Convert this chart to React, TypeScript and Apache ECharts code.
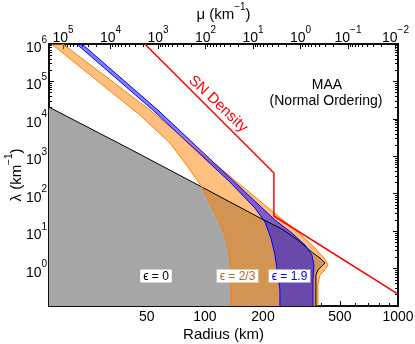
import React, { useEffect, useRef } from 'react';
import * as echarts from 'echarts';

// axis ranges
const radiusRange: [number, number] = [15.6, 1000];
const lambdaRange: [number, number] = [0.1, 1e6];
const muExpRange: [number, number] = [-2.053, 5.295]; // log10(mu), right end .. left end

// tick labels
const radiusMajorTicks = [50, 100, 200, 500, 1000];
const radiusMinorTicks = [20, 30, 40, 60, 70, 80, 90, 300, 400, 600, 700, 800, 900];
const lambdaExponents = [0, 1, 2, 3, 4, 5, 6];
const muExponents = [-2, -1, 0, 1, 2, 3, 4, 5];

// boundaries: [radius (km), lambda (km^-1)]
const eps0Edge: [number, number][] = [
  [15.6, 20600], [40.9, 1566], [96.5, 151], [192.8, 22.5], [250.6, 11.4], [303, 5.8],
  [362.7, 2.61], [394.5, 1.92], [418.7, 1.41], [404, 1.17], [385, 0.917], [376, 0.674], [376, 0.1],
];
const eps23Inner: [number, number][] = [
  [16.1, 1e6], [46.1, 12700], [65.9, 2270], [79.7, 620], [96.5, 151], [108.7, 44.2],
  [119.6, 16.5], [128.5, 6.56], [133.2, 2.77], [136.4, 0.92], [136.4, 0.1],
];
const eps23Outer: [number, number][] = [
  [18.4, 1e6], [51.9, 17200], [253.6, 19.9], [310.6, 8.39], [371.5, 3.55], [413.7, 1.92],
  [433.9, 1.25], [413.7, 0.862], [394.5, 0.674], [385.1, 0.387], [385.1, 0.1],
];
const eps19Inner: [number, number][] = [
  [21.7, 1e6], [53.8, 17200], [134.8, 205.6], [181.6, 41.5], [204.6, 17.6], [219.8, 6.56],
  [230.6, 2.31], [238.9, 0.674], [244.7, 0.268], [244.7, 0.1],
];
const eps19Outer: [number, number][] = [
  [23.1, 1e6], [57.1, 17200], [230.6, 19.9], [282.3, 8.92], [329.7, 4.27], [358.4, 2.31],
  [367.1, 1.25], [362.7, 0.495], [362.7, 0.1],
];
const snDensity: [number, number][] = [
  [48.9, 1e6], [227.8, 358], [227.8, 25.4], [1000, 0.209],
];

const FONT = '"Liberation Sans", Arial, Helvetica, sans-serif';
const lg = Math.log10;

function expText(v: number) {
  const n = Math.round(v);
  return `{b|10}{s|${n < 0 ? '\u2212' + -n : n}}`;
}
const richExp = {
  b: { fontSize: 14, fontFamily: FONT, color: '#000', lineHeight: 20, verticalAlign: 'bottom' },
  s: { fontSize: 10, fontFamily: FONT, color: '#000', lineHeight: 12, verticalAlign: 'top' },
};
const richName = {
  n: { fontSize: 15, fontFamily: FONT, color: '#000', lineHeight: 20, verticalAlign: 'bottom' },
  s: { fontSize: 10, fontFamily: FONT, color: '#000', lineHeight: 12, verticalAlign: 'top' },
};

function minorLogs(lo: number, hi: number) {
  const out: number[] = [];
  for (let n = Math.floor(lo) - 1; n <= Math.ceil(hi); n++) {
    for (let k = 2; k <= 9; k++) {
      const v = n + lg(k);
      if (v > lo && v < hi) out.push(v);
    }
  }
  return out;
}

const lineStyleAxis = { color: '#000', width: 1.5 };

function baseAxis(extra: any) {
  return {
    type: 'value',
    gridIndex: 0,
    splitLine: { show: false },
    nameMoveOverlap: false,
    axisLine: { show: true, onZero: false, lineStyle: lineStyleAxis },
    ...extra,
  };
}

function tickOnly(position: string, min: number, max: number, values: number[], length: number, inverse = false) {
  return baseAxis({
    position, min, max, inverse,
    axisTick: { show: true, inside: true, length, customValues: values, lineStyle: { color: '#000', width: 1 } },
    axisLabel: { show: false },
  });
}

const toXY = (pts: [number, number][]) => pts.map(([r, l]) => [lg(r), lg(l)]);

function fillSeries(pts: [number, number][], color: string) {
  const xy = toXY(pts);
  return {
    type: 'custom',
    xAxisIndex: 0,
    yAxisIndex: 0,
    silent: true,
    clip: true,
    data: [xy[0]],
    renderItem: (_p: any, api: any) => ({
      type: 'polygon',
      shape: { points: xy.map((p) => api.coord(p)) },
      style: { fill: color, stroke: 'none' },
    }),
  };
}

function lineSeries(pts: [number, number][], color: string, width: number) {
  return {
    type: 'line',
    xAxisIndex: 0,
    yAxisIndex: 0,
    data: toXY(pts),
    symbol: 'none',
    showSymbol: false,
    silent: true,
    clip: true,
    lineStyle: { color, width },
  };
}

export default function App() {
  const ref = useRef<HTMLDivElement>(null);
  useEffect(() => {
    if (!ref.current) return;
    const chart = echarts.init(ref.current, null, { renderer: 'svg' });
    const xMin = lg(radiusRange[0]);
    const xMax = lg(radiusRange[1]);
    const yMin = lg(lambdaRange[0]);
    const yMax = lg(lambdaRange[1]);

    const grayPoly = [...eps0Edge, [radiusRange[0], lambdaRange[0]] as [number, number]];
    const orangePoly = [...eps23Inner, ...eps23Outer.slice().reverse()];
    const bluePoly = [...eps19Inner, ...eps19Outer.slice().reverse()];

    const option: any = {
      animation: false,
      grid: { left: 49, right: 17, top: 44, bottom: 38, containLabel: false, outerBoundsMode: 'none' },
      xAxis: [
        baseAxis({
          position: 'bottom', min: xMin, max: xMax,
          axisTick: { show: true, inside: true, length: 5, customValues: radiusMajorTicks.map(lg), lineStyle: { color: '#000', width: 1 } },
          axisLabel: {
            show: true, customValues: radiusMajorTicks.map(lg),
            formatter: (v: number) => String(Math.round(Math.pow(10, v))),
            fontSize: 14, fontFamily: FONT, color: '#000', margin: 3,
          },
          name: 'Radius (km)', nameLocation: 'middle', nameGap: 20,
          nameTextStyle: { fontSize: 15, fontFamily: FONT, color: '#000' },
        }),
        tickOnly('bottom', xMin, xMax, radiusMinorTicks.map(lg), 3),
        baseAxis({
          position: 'top', min: muExpRange[0], max: muExpRange[1], inverse: true,
          axisTick: { show: true, inside: true, length: 5, customValues: muExponents, lineStyle: { color: '#000', width: 1 } },
          axisLabel: {
            show: true, customValues: muExponents, formatter: expText, rich: richExp, margin: 0,
          },
          name: '{n|\u03bc (km}{s|\u22121}{n|)}', nameLocation: 'middle', nameGap: 23,
          nameTextStyle: { rich: richName },
        }),
        tickOnly('top', muExpRange[0], muExpRange[1], minorLogs(muExpRange[0], muExpRange[1]), 3, true),
      ],
      yAxis: [
        baseAxis({
          position: 'left', min: yMin, max: yMax,
          axisTick: { show: true, inside: true, length: 5, customValues: lambdaExponents, lineStyle: { color: '#000', width: 1 } },
          axisLabel: {
            show: true, customValues: lambdaExponents, formatter: expText, rich: richExp, margin: 2,
          },
          name: '{n|\u03bb (km}{s|\u22121}{n|)}', nameLocation: 'middle', nameGap: 26, nameRotate: 90,
          nameTextStyle: { rich: richName },
        }),
        tickOnly('left', yMin, yMax, minorLogs(yMin, yMax), 3),
        tickOnly('right', yMin, yMax, lambdaExponents, 5),
        tickOnly('right', yMin, yMax, minorLogs(yMin, yMax), 3),
      ],
      series: [
        fillSeries(grayPoly, '#a6a6a6'),
        fillSeries(orangePoly, 'rgba(255,128,0,0.5)'),
        fillSeries(bluePoly, 'rgba(0,0,255,0.5)'),
        lineSeries(eps0Edge, '#000000', 1),
        lineSeries(eps23Inner, '#ff8000', 1),
        lineSeries(eps23Outer, '#ff8000', 1),
        lineSeries(eps19Inner, '#0000ff', 1),
        lineSeries(eps19Outer, '#0000ff', 1),
        lineSeries(snDensity, '#ff0000', 1.5),
      ],
      graphic: [
        { type: 'text', x: 327, y: 84, style: { text: 'MAA', font: `14px ${FONT}`, fill: '#000', align: 'center', verticalAlign: 'middle', textAlign: 'center', textVerticalAlign: 'middle' } },
        { type: 'text', x: 326, y: 100, style: { text: '(Normal Ordering)', font: `14px ${FONT}`, fill: '#000', align: 'center', verticalAlign: 'middle', textAlign: 'center', textVerticalAlign: 'middle' } },
        { type: 'text', x: 219, y: 103, rotation: -0.76, style: { text: 'SN Density', font: `15px ${FONT}`, fill: '#ff0000', align: 'center', verticalAlign: 'middle', textAlign: 'center', textVerticalAlign: 'middle' } },
        { type: 'text', x: 156, y: 276, z: 100, style: { text: '\u03f5 = 0', font: `12px ${FONT}`, fill: '#000', backgroundColor: '#fff', padding: [1, 3, 0, 3], align: 'center', verticalAlign: 'middle', textAlign: 'center', textVerticalAlign: 'middle' } },
        { type: 'text', x: 237.5, y: 276, z: 100, style: { text: '\u03f5 = 2/3', font: `12px ${FONT}`, fill: '#b06a30', backgroundColor: '#fff', padding: [1, 3, 0, 3], align: 'center', verticalAlign: 'middle', textAlign: 'center', textVerticalAlign: 'middle' } },
        { type: 'text', x: 289.5, y: 276, z: 100, style: { text: '\u03f5 = 1.9', font: `12px ${FONT}`, fill: '#0000ff', backgroundColor: '#fff', padding: [1, 3, 0, 3], align: 'center', verticalAlign: 'middle', textAlign: 'center', textVerticalAlign: 'middle' } },
      ],
    };
    chart.setOption(option);
    return () => chart.dispose();
  }, []);
  return <div ref={ref} style={{ position: 'fixed', left: 0, top: 0, width: 415, height: 344 }} />;
}
